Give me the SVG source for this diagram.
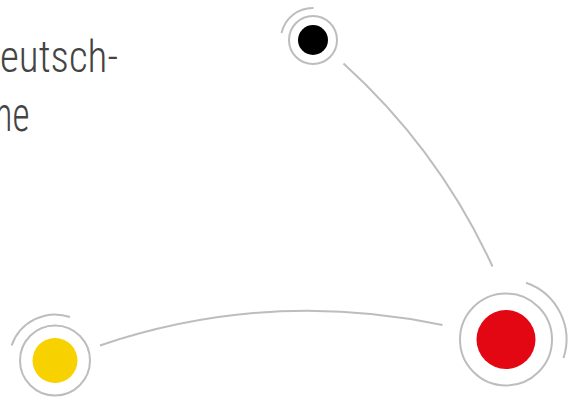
<svg xmlns="http://www.w3.org/2000/svg" width="582" height="401" viewBox="0 0 582 401">
<style>
.ring{fill:none;stroke:#bdbdbd;stroke-width:2}
.edge{fill:none;stroke:#bdbdbd;stroke-width:2}
.t{font-family:"Roboto Condensed",Roboto,"Liberation Sans",sans-serif;font-weight:300;fill:#444}
</style>
<rect width="582" height="401" fill="#fff"/>
<g id="text">
<text class="t" x="0" y="72" font-size="44" textLength="118" lengthAdjust="spacingAndGlyphs">eutsch-</text>
<text class="t" x="-5.5" y="131" font-size="48" textLength="35" lengthAdjust="spacingAndGlyphs">ne</text>
</g>
<g id="connectors">
<path class="edge" d="M343.5,63.5 Q439,150 492.5,266.5"/>
<path class="edge" d="M100,345.5 Q268.5,288.5 442.5,325"/>
</g>
<g id="node-black">
<circle cx="313" cy="40" r="15" fill="#000"/>
<circle class="ring" cx="313" cy="40" r="24"/>
<path class="ring" d="M281.5,33 A32,32 0 0 1 313.5,8"/>
</g>
<g id="node-red">
<circle cx="506" cy="339.5" r="29.5" fill="#e30613"/>
<circle class="ring" cx="506" cy="339.5" r="46"/>
<path class="ring" d="M526,282.7 A60,60 0 0 1 563.5,358"/>
</g>
<g id="node-yellow">
<circle cx="55" cy="360.5" r="22.5" fill="#f8d100"/>
<circle class="ring" cx="55" cy="360.5" r="35"/>
<path class="ring" d="M11.7,345.5 A46,46 0 0 1 70,317"/>
</g>
</svg>
